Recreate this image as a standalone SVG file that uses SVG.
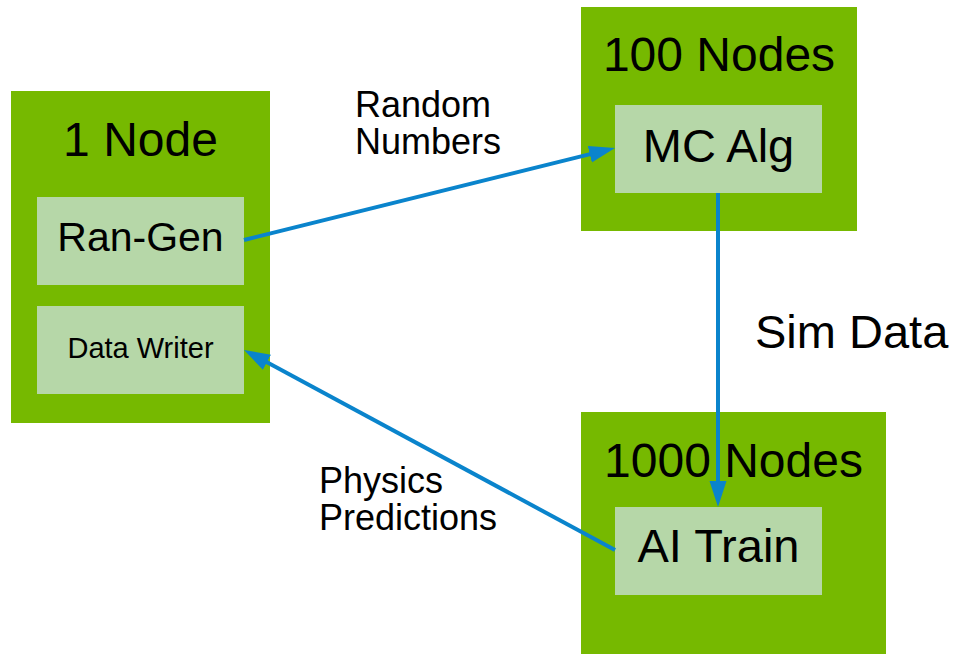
<svg xmlns="http://www.w3.org/2000/svg" width="955" height="654" viewBox="0 0 955 654">
  <style>
    .outer { fill: #76B900; }
    .inner { fill: #B6D7A8; }
    text { font-family: "Liberation Sans", Arial, sans-serif; fill: #000; }
    .title { font-size: 48px; text-anchor: middle; }
    .label { font-size: 47px; text-anchor: middle; }
    .edge { font-size: 36px; }
    .conn { stroke: #0A84CC; stroke-width: 4; fill: none; }
  </style>
  <defs>
    <marker id="arrow" markerUnits="userSpaceOnUse" markerWidth="26" markerHeight="18" refX="16" refY="9" orient="auto">
      <path d="M0,0.5 L26,9 L0,17.5 z" fill="#0A84CC"/>
    </marker>
  </defs>
  <rect width="955" height="654" fill="#FFFFFF"/>

  <g id="node-1">
    <rect class="outer" x="11" y="91" width="259" height="332"/>
    <text class="title" x="140.5" y="156">1 Node</text>
  </g>
  <g id="ran-gen">
    <rect class="inner" x="37" y="197" width="207" height="88"/>
    <text class="label" x="140.5" y="251" style="font-size:41px">Ran-Gen</text>
  </g>
  <g id="data-writer">
    <rect class="inner" x="37" y="306" width="207" height="88"/>
    <text class="label" x="140.5" y="358" style="font-size:29px">Data Writer</text>
  </g>

  <g id="nodes-100">
    <rect class="outer" x="581" y="7" width="276" height="224"/>
    <text class="title" x="719" y="71">100 Nodes</text>
  </g>
  <g id="mc-alg">
    <rect class="inner" x="615" y="105" width="207" height="88"/>
    <text class="label" x="718.5" y="162">MC Alg</text>
  </g>

  <g id="nodes-1000">
    <rect class="outer" x="581" y="412" width="305" height="242"/>
    <text class="title" x="733.5" y="477">1000 Nodes</text>
  </g>
  <g id="ai-train">
    <rect class="inner" x="615" y="507" width="207" height="88"/>
    <text class="label" x="718.5" y="562">AI Train</text>
  </g>

  <g id="connectors">
    <line class="conn" x1="244" y1="240" x2="605.3" y2="150.4" marker-end="url(#arrow)"/>
    <line class="conn" x1="718" y1="193" x2="718" y2="497" marker-end="url(#arrow)"/>
    <line class="conn" x1="615" y1="550" x2="252.8" y2="354.7" marker-end="url(#arrow)"/>
    <text class="edge"><tspan x="355" y="117">Random</tspan><tspan x="355" y="154">Numbers</tspan></text>
    <text class="edge" x="755" y="348" style="font-size:47px">Sim Data</text>
    <text class="edge"><tspan x="319" y="493">Physics</tspan><tspan x="319" y="530">Predictions</tspan></text>
  </g>
</svg>
